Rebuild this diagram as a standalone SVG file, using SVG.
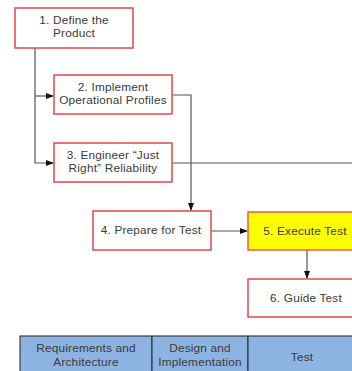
<svg xmlns="http://www.w3.org/2000/svg" width="352" height="371" viewBox="0 0 352 371">
<defs>
<style>
.box{fill:#fff;stroke:#e2474c;stroke-width:1.5}
.hl{fill:#ffff00;stroke:#e8603c;stroke-width:1.5}
.t{font-family:"Liberation Sans",Arial,sans-serif;font-size:11.8px;letter-spacing:0.2px;fill:#3a3a3a;text-anchor:middle}
.c{fill:none;stroke:#555;stroke-width:1.2}
.cell{fill:#8db3e2;stroke:#222;stroke-width:1}
</style>
<marker id="ah" markerWidth="8" markerHeight="6" refX="7" refY="3" orient="auto" markerUnits="userSpaceOnUse">
<path d="M0,0 L8,3 L0,6 z" fill="#111"/>
</marker>
</defs>
<rect width="352" height="371" fill="#fff"/>
<g id="connectors">
<path class="c" d="M35,48 V163 H53" marker-end="url(#ah)"/>
<path class="c" d="M35,96 H53" marker-end="url(#ah)"/>
<path class="c" d="M172,95 H191 V210" marker-end="url(#ah)"/>
<path class="c" d="M172,163 H352"/>
<path class="c" d="M211,231 H247" marker-end="url(#ah)"/>
<path class="c" d="M307,250 V278" marker-end="url(#ah)"/>
</g>
<g id="n1"><rect class="box" x="15" y="8" width="118" height="40"/><text class="t" x="74" y="24">1.  Define the</text><text class="t" x="74" y="37">Product</text></g>
<g id="n2"><rect class="box" x="54" y="75" width="118" height="39"/><text class="t" x="113" y="91">2.  Implement</text><text class="t" x="113" y="104">Operational Profiles</text></g>
<g id="n3"><rect class="box" x="54" y="143" width="118" height="39"/><text class="t" x="113" y="159">3.  Engineer “Just</text><text class="t" x="113" y="172">Right” Reliability</text></g>
<g id="n4"><rect class="box" x="93" y="211" width="118" height="39"/><text class="t" x="151" y="234">4.  Prepare for Test</text></g>
<g id="n5"><rect class="hl" x="248" y="212" width="118" height="38"/><text class="t" x="305" y="235">5.  Execute Test</text></g>
<g id="n6"><rect class="box" x="248" y="279" width="118" height="38"/><text class="t" x="306" y="302">6.  Guide Test</text></g>
<g id="phases">
<rect class="cell" x="20" y="336" width="132" height="40"/>
<rect class="cell" x="152" y="336" width="96" height="40"/>
<rect class="cell" x="248" y="336" width="110" height="40"/>
<text class="t" x="86" y="352">Requirements and</text><text class="t" x="86" y="366">Architecture</text>
<text class="t" x="200" y="352">Design and</text><text class="t" x="200" y="366">Implementation</text>
<text class="t" x="302" y="361">Test</text>
</g>
</svg>
